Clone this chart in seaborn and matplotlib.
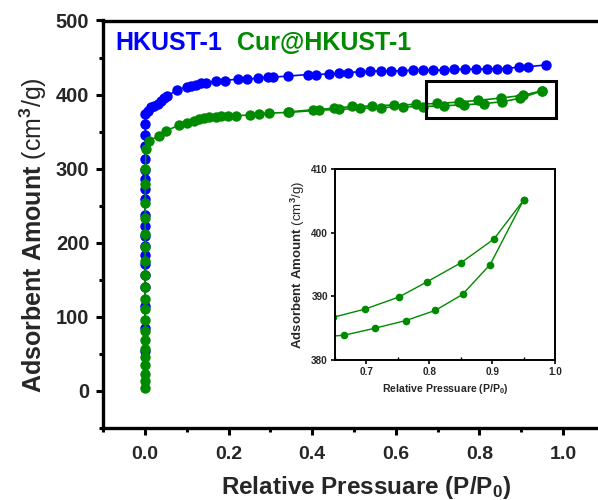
import matplotlib
matplotlib.use("Agg")
import matplotlib.pyplot as plt
from matplotlib.patches import Rectangle
from matplotlib.ticker import MultipleLocator
import seaborn as sns
import pandas as pd

# ---------------- data ----------------
# HKUST-1 (blue)
hk_x = [0.00002, 0.00003, 0.00004, 0.00005, 0.00006, 0.00007, 0.00008, 0.00009,
        0.0001, 0.00012, 0.00014, 0.00016, 0.00018, 0.0002, 0.00025, 0.0003,
        0.0004, 0.0005, 0.0007, 0.001,
        0.006, 0.014, 0.022, 0.030, 0.038, 0.046, 0.053, 0.076, 0.100, 0.110,
        0.122, 0.134, 0.146, 0.170, 0.192, 0.222, 0.245, 0.269, 0.293, 0.305,
        0.341, 0.389, 0.409, 0.441, 0.463, 0.485, 0.514, 0.538, 0.565, 0.589,
        0.615, 0.640, 0.666, 0.690, 0.716, 0.740, 0.766, 0.792, 0.817, 0.841,
        0.867, 0.895, 0.915, 0.958]
hk_y = [54, 85, 114, 140, 157, 171, 184, 195, 209, 222, 238, 259, 273, 286,
        298, 313, 330, 345, 360, 374,
        378.5, 383, 385, 387.5, 392, 395, 397.5, 406.5, 410, 411.5,
        413, 415, 416, 418, 419, 421, 421, 422, 423.5, 423.5,
        425, 427, 427, 428, 428.5, 429.5, 431, 431.5, 432, 432,
        432, 433, 433, 433, 433, 434, 434, 434.5, 434.5, 435,
        435, 437.5, 437.5, 440]

# Cur@HKUST-1 (green) adsorption branch
cur_ads_x = [0.00001, 0.000015, 0.00002, 0.000025, 0.00003, 0.000035, 0.00004,
             0.00005, 0.00006, 0.00007, 0.00008, 0.0001, 0.00012, 0.00015,
             0.0002, 0.00025, 0.0003, 0.0004, 0.0005, 0.0008, 0.002,
             0.010, 0.034, 0.050, 0.082, 0.100, 0.118, 0.130, 0.142, 0.154,
             0.170, 0.182, 0.198, 0.218, 0.250, 0.273, 0.297, 0.345, 0.417,
             0.464, 0.515, 0.565, 0.616, 0.665, 0.714, 0.763, 0.810, 0.853,
             0.897, 0.950]
cur_ads_y = [4.5, 13.5, 23, 34.5, 45.5, 56.5, 68.5, 81.5, 96, 110.5, 124.5,
             140.5, 157, 175, 194, 212, 234, 254, 279, 300, 326,
             338, 344.5, 351, 359, 362, 365, 366.5, 368, 369.5,
             370, 371, 371.5, 371.5, 372.5, 374, 375, 376, 379,
             380, 381.5, 382.5, 383.5, 383.9, 385.0, 386.2, 387.8, 390.3,
             395.0, 405.1]

# Cur@HKUST-1 (green) desorption branch
cur_des_x = [0.950, 0.903, 0.851, 0.797, 0.752, 0.698, 0.647, 0.595, 0.542,
             0.496, 0.452, 0.401, 0.341]
cur_des_y = [405.1, 399.0, 395.3, 392.3, 389.9, 388.0, 386.7, 386.0, 384.5,
             384.0, 381.5, 379.5, 376.5]

labels = ["HKUST-1", "Cur@HKUST-1"]
colors = ["#0000FF", "#008A00"]
x_ticks = [0.0, 0.2, 0.4, 0.6, 0.8, 1.0]
y_ticks = [0, 100, 200, 300, 400, 500]
in_x_ticks = [0.7, 0.8, 0.9, 1.0]
in_y_ticks = [380, 390, 400, 410]
zoom_box = (0.671, 369, 0.311, 50)

# ---------------- style ----------------
sns.set_theme(style="ticks")
plt.rcParams["font.family"] = ["Liberation Sans", "DejaVu Sans"]
plt.rcParams["font.weight"] = "bold"
plt.rcParams["mathtext.fontset"] = "custom"
plt.rcParams["mathtext.rm"] = "Liberation Sans"
plt.rcParams["mathtext.it"] = "Liberation Sans"
plt.rcParams["mathtext.bf"] = "Liberation Sans:bold"

hk = pd.DataFrame({"x": hk_x, "y": hk_y})
ads = pd.DataFrame({"x": cur_ads_x, "y": cur_ads_y})
des = pd.DataFrame({"x": cur_des_x, "y": cur_des_y})

fig = plt.figure(figsize=(5.98, 5.0), dpi=100)
ax = fig.add_axes([0.1727, 0.144, 0.8388, 0.815])


def draw(a, ms, lw):
    kw = dict(x="x", y="y", marker="o", markersize=ms, linewidth=lw,
              estimator=None, sort=False, ax=a, markeredgewidth=0)
    sns.lineplot(data=hk, color=colors[0], **kw)
    sns.lineplot(data=ads, color=colors[1], **kw)
    sns.lineplot(data=des, color=colors[1], **kw)


draw(ax, 7.5, 1.2)
ax.set_xlim(-0.1, 1.1)
ax.set_ylim(-50, 500)
ax.set_xticks(x_ticks)
ax.set_yticks(y_ticks)
ax.set_xticklabels([f"{v:.1f}" for v in x_ticks])
ax.set_yticklabels([str(v) for v in y_ticks])
ax.xaxis.set_minor_locator(MultipleLocator(0.1))
ax.yaxis.set_minor_locator(MultipleLocator(50))
ax.tick_params(which="major", direction="out", length=5, width=2.2,
               color="black")
ax.tick_params(axis="x", which="major", labelsize=14, pad=8)
ax.tick_params(axis="y", which="major", labelsize=14.5, pad=5)
ax.tick_params(which="minor", direction="out", length=3, width=2.2, color="black")
for s in ax.spines.values():
    s.set_linewidth(2.4)
    s.set_color("black")
for t in ax.get_xticklabels() + ax.get_yticklabels():
    t.set_fontweight("bold")

ax.set_xlabel(r"Relative Pressuare (P/P$_\mathbf{0}$)", fontsize=17.5,
              fontweight="bold")
ax.set_ylabel(r"$\mathbf{Adsorbent\ Amount}$ (cm$^{3}$/g)", fontsize=18,
              fontweight="normal")
ax.xaxis.set_label_coords(0.524, -0.112)
ax.yaxis.set_label_coords(-0.108, 0.474)

ax.text(0.025, 0.945, labels[0], color=colors[0], fontsize=18,
        fontweight="bold", transform=ax.transAxes, va="center", ha="left")
ax.text(0.267, 0.945, labels[1], color=colors[1], fontsize=18,
        fontweight="bold", transform=ax.transAxes, va="center", ha="left")

ax.add_patch(Rectangle(zoom_box[:2], zoom_box[2], zoom_box[3], fill=False,
                       lw=2.2, ec="black", zorder=5))

# ---------------- inset ----------------
axin = fig.add_axes([0.560, 0.28, 0.368, 0.382])
draw(axin, 5.5, 1.0)
axin.set_xlim(0.65, 1.0)
axin.set_ylim(380, 410)
axin.set_xticks(in_x_ticks)
axin.set_yticks(in_y_ticks)
axin.set_xticklabels([f"{v:.1f}" for v in in_x_ticks])
axin.set_yticklabels([str(v) for v in in_y_ticks])
axin.xaxis.set_minor_locator(MultipleLocator(0.05))
axin.tick_params(direction="out", length=3, width=1.2, labelsize=7.2,
                 color="black", pad=2)
axin.tick_params(axis="x", which="minor", direction="in", length=2, width=1.0,
                 color="black")
for s in axin.spines.values():
    s.set_linewidth(1.4)
    s.set_color("black")
for t in axin.get_xticklabels() + axin.get_yticklabels():
    t.set_fontweight("bold")
axin.set_xlabel(r"Relative Pressuare (P/P$_\mathbf{0}$)", fontsize=7.6,
                fontweight="bold", labelpad=4)
axin.set_ylabel(r"$\mathbf{Adsorbent\ Amount}$ (cm$^{3}$/g)", fontsize=9.5,
                fontweight="normal", labelpad=3)

fig.savefig("out.png", dpi=100)
